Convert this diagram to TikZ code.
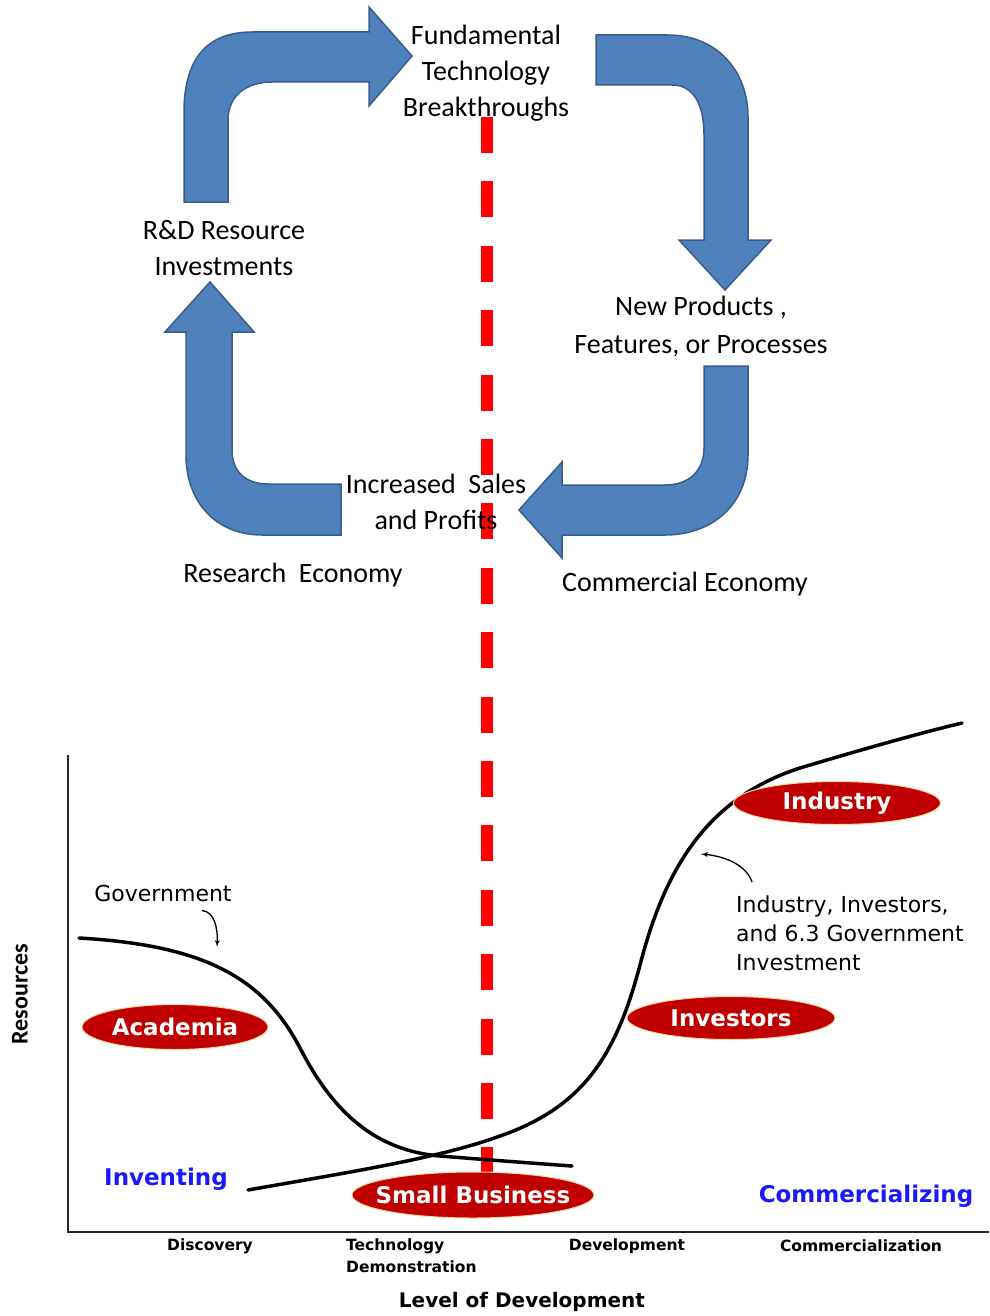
\documentclass[tikz,border=0pt]{standalone}
\usepackage{fontspec}
\setmainfont{Carlito}
\newfontfamily\verdfont{DejaVu Sans}
\usetikzlibrary{shapes,arrows,positioning,calc,fit,backgrounds}
\definecolor{arrowblue}{RGB}{79,129,189}
\definecolor{arrowedge}{RGB}{56,93,138}
\definecolor{pillred}{RGB}{192,0,0}
\definecolor{pilledge}{RGB}{250,215,160}
\definecolor{phaseblue}{RGB}{25,25,250}
\tikzset{
    cycletext/.style={align=center, inner sep=0pt, font=\fontsize{28}{36}\selectfont},
    bigarrow/.style={fill=arrowblue, draw=arrowedge, line width=1.5pt},
    divider/.style={draw=red, line width=12pt, dash pattern=on 36pt off 28.4pt},
    curve/.style={draw, line width=3.5pt, line cap=round},
    pill/.style={ellipse, fill=pillred, draw=pilledge, line width=1pt, text=white, inner xsep=-40pt, inner ysep=-6pt, font=\verdfont\bfseries\fontsize{23}{23}\selectfont},
    phase/.style={text=phaseblue, inner sep=0pt, font=\verdfont\bfseries\fontsize{23}{23}\selectfont},
    note/.style={inner sep=0pt, font=\verdfont\fontsize{22}{29}\selectfont},
    ticklabel/.style={inner sep=0pt, font=\verdfont\bfseries\fontsize{15.5}{22}\selectfont},
    line/.style={draw, -latex', line width=1.3pt},
    axis/.style={draw=black!85, line width=2pt}
}

\begin{document}
\begin{tikzpicture}[x=1pt, y=-1pt]
    \useasboundingbox (0,0) rectangle (989,1316);

    % the R&D cycle
    \node [cycletext] (breakthrough) at (486,73) {Fundamental\\Technology\\Breakthroughs};
    \node [cycletext] (rdinvest) at (224,248) {R\&D Resource\\Investments};
    \node [cycletext, font=\fontsize{28}{38}\selectfont] (newproducts) at (701,327) {New Products ,\\Features, or Processes};
    \node [cycletext] (salesprofit) at (436,502) {Increased~~Sales\\and Profits};
    \node [cycletext] (researcheco) at (293,575) {Research~~Economy};
    \node [cycletext] (commercialeco) at (685,584) {Commercial Economy};

    \begin{pgfonlayer}{background}
    \path [bigarrow] (184,202) -- (184,112) .. controls (184,60) and (206,32) .. (252,32) -- (369,32) -- (369,7) -- (412,56) -- (369,106) -- (369,82) -- (272,82) .. controls (246,82) and (228,96) .. (228,120) -- (228,202) -- cycle;
    \path [bigarrow] (596,35) -- (668,35) .. controls (716,35) and (748,70) .. (748,117) -- (748,240) -- (771,240) -- (725,290) -- (679,240) -- (704,240) -- (704,135) .. controls (704,102) and (692,85) .. (672,85) -- (596,85) -- cycle;
    \path [bigarrow] (704,366) -- (748,366) -- (748,455) .. controls (748,505) and (712,535) .. (665,535) -- (562,535) -- (562,558) -- (519,510) -- (562,462) -- (562,485) -- (665,485) .. controls (690,485) and (704,470) .. (704,448) -- cycle;
    \path [bigarrow] (341,484) -- (341,535) -- (262,535) .. controls (216,535) and (186,502) .. (186,455) -- (186,332) -- (165,332) -- (210,282) -- (254,332) -- (232,332) -- (232,450) .. controls (232,472) and (246,484) .. (268,484) -- cycle;

    % divider and resource curves
    \coordinate (divtop) at (487,117);
    \coordinate (divbottom) at (487,1184);
    \path [divider] (divtop) -- (divbottom);
    \path [curve] (79,938) .. controls (200,945) and (262,975) .. (300,1048)
        .. controls (330,1106) and (370,1150) .. (440,1156)
        .. controls (490,1160) and (530,1163) .. (572,1166);
    \path [curve] (248,1190) .. controls (350,1172) and (440,1158) .. (500,1136)
        .. controls (580,1108) and (615,1060) .. (640,965)
        .. controls (662,880) and (700,800) .. (800,768)
        .. controls (860,750) and (920,733) .. (962,723);
    \end{pgfonlayer}

    % chart
    \coordinate (origin) at (68,1232);
    \path [axis] (68,755) -- (origin) -- (989,1232);

    \node [pill, minimum width=186pt, minimum height=45pt] (academia) at (175,1027) {Academia};
    \node [pill, minimum width=242pt, minimum height=46pt] (smallbiz) at (473,1195) {Small Business};
    \node [pill, minimum width=208pt, minimum height=43pt] (investors) at (731,1018) {Investors};
    \node [pill, minimum width=207pt, minimum height=43pt] (industry) at (837,803) {Industry};

    \node [phase] (inventing) at (166,1179) {Inventing};
    \node [phase] (commercializing) at (866,1196) {Commercializing};

    \node [note] (govlabel) at (163,893) {Government};
    \node [note, align=left, anchor=north west] (investlabel) at (736,896) {Industry, Investors,\\and 6.3 Government\\Investment};
    \coordinate (govtip) at (217,947);
    \coordinate (investtip) at (701,854);
    \path [line] ([xshift=39pt,yshift=-9pt]govlabel.south) .. controls +(12,1) and +(1,-20) .. (govtip);
    \path [line] ([xshift=16pt,yshift=14pt]investlabel.north west) .. controls +(-6,-18) and +(22,2) .. (investtip);

    \node [ticklabel] (discovery) at (210,1246) {Discovery};
    \node [ticklabel, align=left, anchor=north west] (techdemo) at (346,1239) {Technology\\Demonstration};
    \node [ticklabel] (development) at (627,1246) {Development};
    \node [ticklabel] (commercialization) at (861,1246) {Commercialization};
    \node [inner sep=0pt, font=\verdfont\bfseries\fontsize{20}{20}\selectfont] (xaxislabel) at (522,1302) {Level of Development};
    \node [inner sep=0pt, rotate=90, font=\bfseries\fontsize{24}{24}\selectfont] (yaxislabel) at (20,994) {Resources};
\end{tikzpicture}
\end{document}
